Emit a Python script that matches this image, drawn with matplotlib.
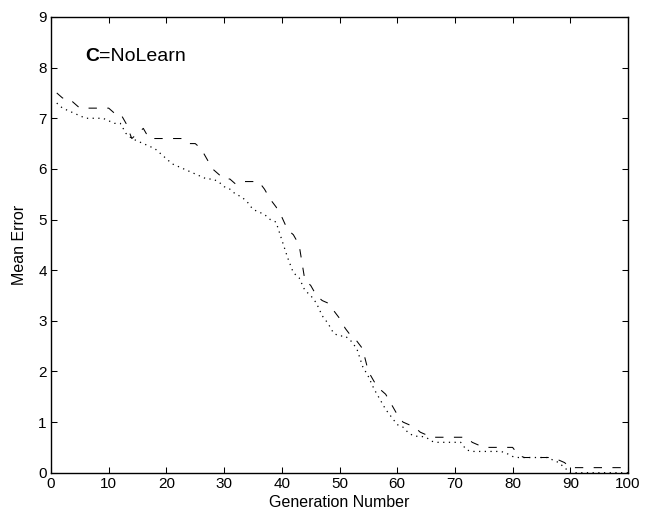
import numpy as np
import matplotlib
matplotlib.use("Agg")
import matplotlib.pyplot as plt

plt.rcParams['font.family'] = ['Liberation Sans', 'DejaVu Sans']
plt.rcParams['lines.scale_dashes'] = False

generations = list(range(1, 101))

dashed_err = [
    7.5, 7.4, 7.4, 7.3, 7.2, 7.2, 7.2, 7.2, 7.2, 7.2,      # 1-10
    7.1, 7.1, 6.9, 6.6, 6.7, 6.8, 6.6, 6.6, 6.6, 6.6,      # 11-20
    6.6, 6.6, 6.6, 6.5, 6.5, 6.4, 6.2, 6.0, 5.9, 5.8,      # 21-30
    5.8, 5.7, 5.75, 5.75, 5.75, 5.75, 5.6, 5.4, 5.25, 5.05,  # 31-40
    4.8, 4.7, 4.5, 3.8, 3.7, 3.5, 3.4, 3.35, 3.2, 3.05,    # 41-50
    2.85, 2.7, 2.6, 2.45, 2.0, 1.8, 1.65, 1.55, 1.35, 1.15,  # 51-60
    1.0, 0.95, 0.9, 0.8, 0.75, 0.7, 0.7, 0.7, 0.7, 0.7,    # 61-70
    0.7, 0.7, 0.6, 0.55, 0.5, 0.5, 0.5, 0.5, 0.5, 0.5,     # 71-80
    0.35, 0.3, 0.3, 0.3, 0.3, 0.3, 0.3, 0.25, 0.2, 0.1,    # 81-90
    0.1, 0.1, 0.1, 0.1, 0.1, 0.1, 0.1, 0.1, 0.1, 0.1,      # 91-100
]

dotted_err = [
    7.3, 7.2, 7.15, 7.1, 7.05, 7.0, 7.0, 7.0, 7.0, 6.95,   # 1-10
    6.9, 6.9, 6.7, 6.6, 6.55, 6.5, 6.45, 6.4, 6.3, 6.2,    # 11-20
    6.1, 6.05, 6.0, 5.95, 5.9, 5.85, 5.8, 5.8, 5.75, 5.65,  # 21-30
    5.6, 5.5, 5.45, 5.35, 5.2, 5.15, 5.1, 5.0, 4.95, 4.6,  # 31-40
    4.25, 3.95, 3.85, 3.6, 3.5, 3.35, 3.1, 2.95, 2.75, 2.7,  # 41-50
    2.7, 2.6, 2.45, 2.1, 1.9, 1.65, 1.45, 1.25, 1.1, 0.95,  # 51-60
    0.9, 0.78, 0.72, 0.72, 0.7, 0.62, 0.6, 0.6, 0.6, 0.6,  # 61-70
    0.6, 0.45, 0.42, 0.42, 0.42, 0.42, 0.42, 0.42, 0.38, 0.32,  # 71-80
    0.3, 0.3, 0.3, 0.3, 0.3, 0.3, 0.25, 0.2, 0.1, 0.0,     # 81-90
    0.0, 0.0, 0.0, 0.0, 0.0, 0.0, 0.0, 0.0, 0.0, 0.0,      # 91-100
]

x_ticks = list(range(0, 101, 10))
y_ticks = list(range(0, 10))

fig = plt.figure(figsize=(6.46, 5.2), dpi=100)
ax = fig.add_axes([51/646, 1 - 472.7/520, (628 - 51)/646, (472.7 - 17)/520])

ax.plot(generations, dashed_err, color='black', lw=0.75, dashes=(6, 7.5))
ax.plot(generations, dotted_err, color='black', lw=0.9, dashes=(0.9, 3.2))

ax.set_xlim(0, 100)
ax.set_ylim(0, 9)
ax.set_xticks(x_ticks)
ax.set_yticks(y_ticks)
ax.tick_params(direction='in', length=4, width=0.75, labelsize=11, top=True, right=True, pad=3)
for s in ax.spines.values():
    s.set_linewidth(1.0)

ax.set_xlabel('Generation Number', fontsize=11.5, labelpad=3)
ax.set_ylabel('Mean Error', fontsize=11.5, labelpad=8)

t1 = ax.text(5.9, 8.22, 'C', fontsize=14, fontweight='bold', va='center', ha='left')
ax.annotate('=NoLearn', xy=(1, 0.5), xycoords=t1, va='center', ha='left', fontsize=14)

fig.savefig('out.png', dpi=100)
